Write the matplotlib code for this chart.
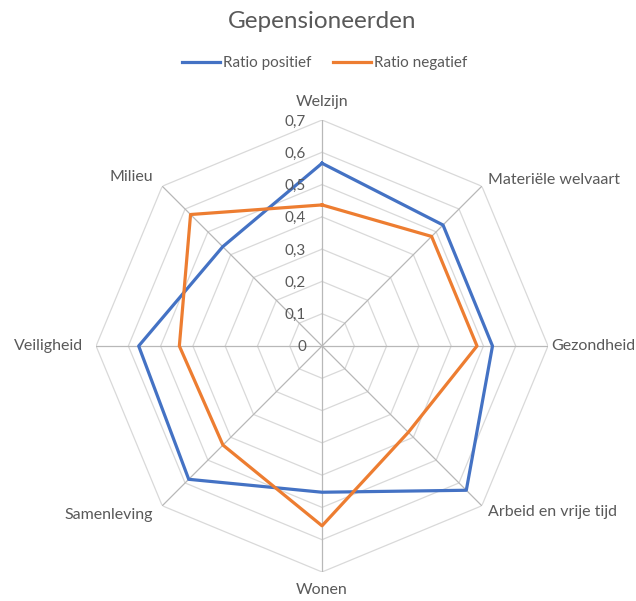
import matplotlib
matplotlib.use('Agg')
import matplotlib.pyplot as plt
import numpy as np

categories = ['Welzijn', 'Materiële welvaart', 'Gezondheid', 'Arbeid en vrije tijd',
              'Wonen', 'Samenleving', 'Veiligheid', 'Milieu']
ratio_positief = [0.566, 0.53, 0.528, 0.632, 0.453, 0.584, 0.568, 0.435]
ratio_negatief = [0.437, 0.48, 0.48, 0.378, 0.557, 0.434, 0.442, 0.576]
rings = [0.1, 0.2, 0.3, 0.4, 0.5, 0.6, 0.7]
ring_labels = ['0', '0,1', '0,2', '0,3', '0,4', '0,5', '0,6', '0,7']

plt.rcParams['font.family'] = ['Lato', 'DejaVu Sans']
text_color = '#595959'

fig = plt.figure(figsize=(6.36, 6.01), dpi=100)
ax = fig.add_axes([0.151, 0.0483, 0.7107, 0.752], projection='polar')
ax.set_theta_zero_location('N')
ax.set_theta_direction(-1)
ax.set_ylim(0, 0.7)
ax.grid(False)
ax.spines['polar'].set_visible(False)
ax.set_xticks([])
ax.set_yticks([])

n = len(categories)
theta = np.linspace(0, 2 * np.pi, n, endpoint=False)
theta_closed = np.append(theta, theta[0])

# octagon grid
for r in rings:
    ax.plot(theta_closed, [r] * (n + 1), color='#d9d9d9', lw=0.9, zorder=1)
# spokes
for t in theta:
    ax.plot([t, t], [0, 0.7], color='#b8b8b8', lw=0.9, zorder=1)

ax.plot(theta_closed, ratio_positief + ratio_positief[:1], color='#4472c4', lw=2.3,
        label='Ratio positief', zorder=3)
ax.plot(theta_closed, ratio_negatief + ratio_negatief[:1], color='#ed7d31', lw=2.3,
        label='Ratio negatief', zorder=3)

# radial tick labels
for i, lab in enumerate(ring_labels):
    ax.annotate(lab, xy=(0, i * 0.1), xytext=(-11.5, -1), textcoords='offset points',
                ha='right', va='center', fontsize=11, color=text_color)

# category labels
for t, cat in zip(theta, categories):
    if abs(np.sin(t)) < 0.01:
        ha = 'center'
        dx, dy = 0, np.cos(t) * 13
    elif np.sin(t) > 0.99:
        # right-most label sits tight against the edge
        ha = 'left'
        dx, dy = 2, 0
    elif np.sin(t) > 0:
        ha = 'left'
        dx, dy = np.sin(t) * 6, np.cos(t) * 6
    else:
        ha = 'right'
        dx, dy = np.sin(t) * 9.5, np.cos(t) * 9.5
    ax.annotate(cat, xy=(t, 0.7), xytext=(dx, dy), textcoords='offset points',
                ha=ha, va='center', fontsize=11.5, color=text_color, annotation_clip=False)

fig.text(0.506, 0.964, 'Gepensioneerden', ha='center', va='center', fontsize=17.5,
         color=text_color)
fig.legend(loc='center', bbox_to_anchor=(0.51, 0.895), ncol=2, frameon=False,
           fontsize=11, handlelength=2.5, handletextpad=0.2, columnspacing=1.4,
           labelcolor=text_color)

plt.savefig('out.png', dpi=100)
plt.close()
